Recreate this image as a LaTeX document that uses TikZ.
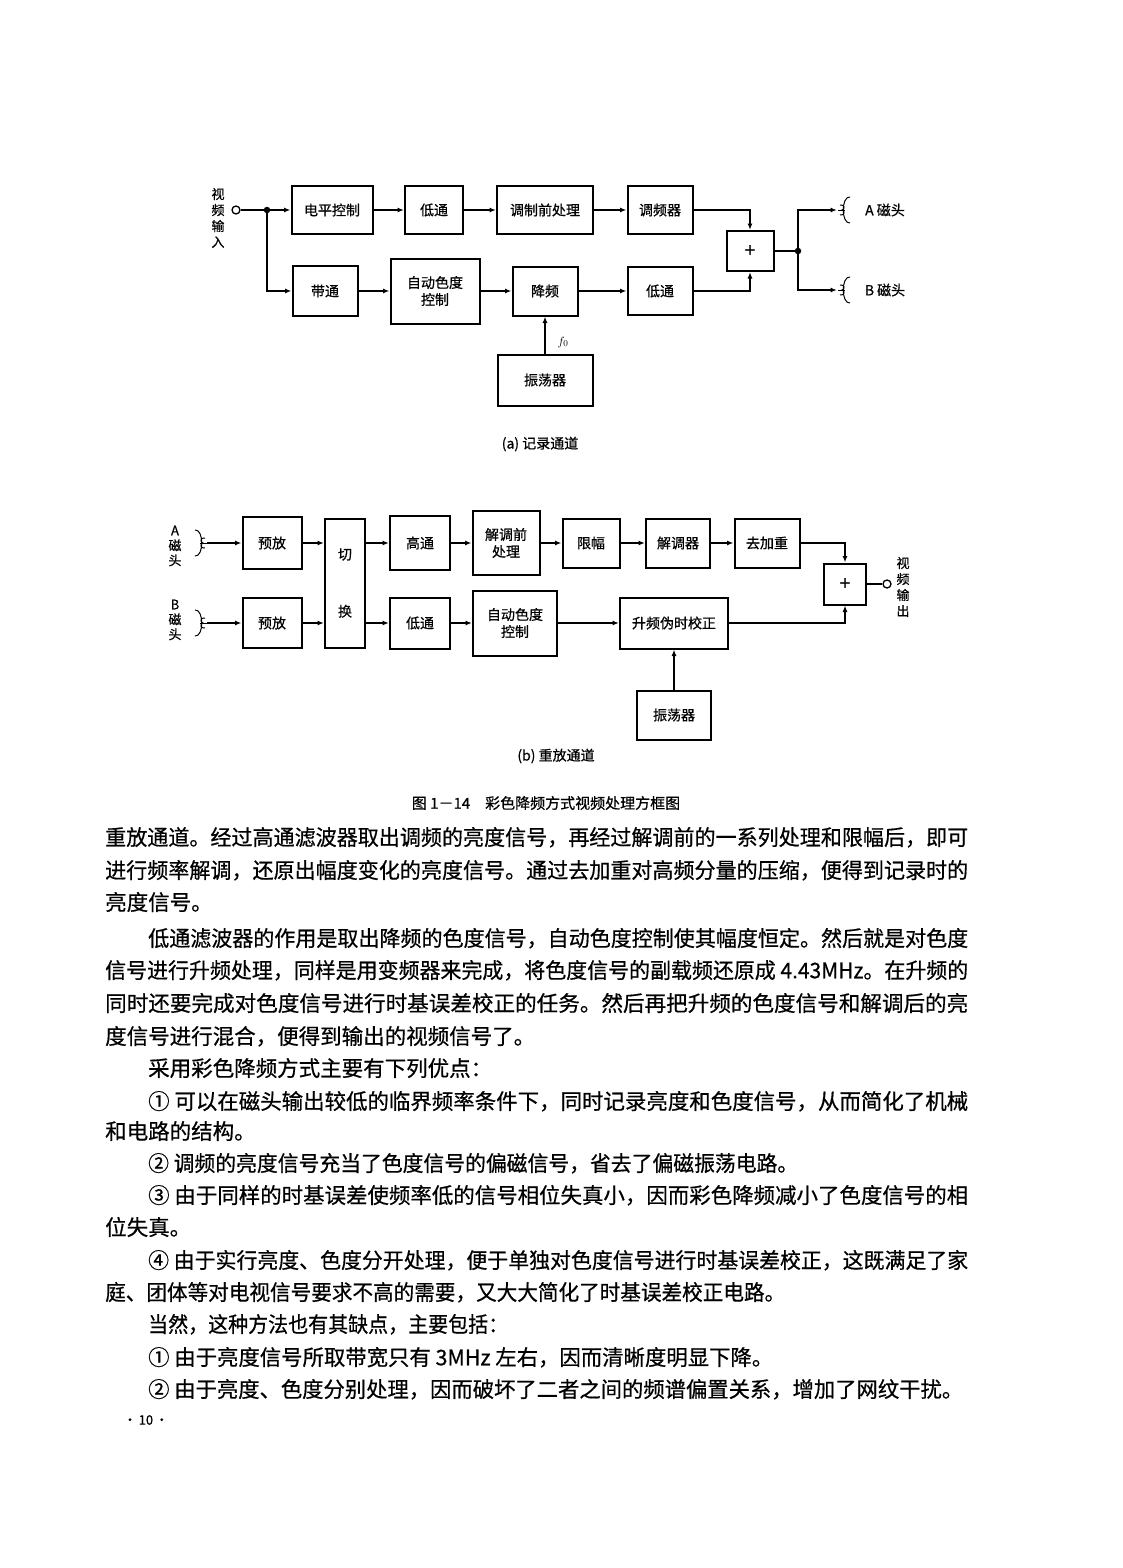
\documentclass[tikz,border=0pt]{standalone}
\usepackage{fontspec}
\usepackage{graphicx}
\setmainfont{Noto Sans CJK SC}[FakeBold=0.6]
\usetikzlibrary{arrows.meta}
\newcommand{\boxfont}{\fontsize{14}{17}\selectfont}
\newcommand{\vfont}{\fontsize{13}{16}\selectfont}
\newcommand{\bodyfont}{\fontsize{21.5}{26}\selectfont}
\newcommand{\jline}[2]{\resizebox{#1pt}{\height}{#2}}
\tikzset{
  blk/.style={draw,line width=2pt,inner sep=0pt,align=center,font=\boxfont},
  arr/.style={line width=1.5pt,-{Latex[length=6.5pt,width=5pt]}},
  wire/.style={line width=1.5pt},
  jn/.style={circle,fill,inner sep=0pt,minimum size=6.5pt},
  port/.style={circle,draw,line width=1.3pt,inner sep=0pt,minimum size=8pt,fill=white},
  vtxt/.style={align=center,font=\vfont,inner sep=0pt},
  txt/.style={anchor=west,inner sep=0pt,font=\bodyfont,text height=19pt,text depth=2.5pt},
  mhead/.pic={
    \draw[line width=1pt] (4,-13) .. controls (-5,-14) and (-5,14) .. (4,13);
    \draw[line width=1pt] (-6,-5) .. controls (-1,-6) and (-1,0) .. (-4,0) .. controls (-1,0) and (-1,6) .. (-6,5);
    \draw[line width=1pt] (-8,0) -- (-1,0);
  }
}

\begin{document}
\begin{tikzpicture}[x=1pt,y=-1pt]
\fill[white] (0,0) rectangle (1122,1568);
\useasboundingbox (0,0) rectangle (1122,1568);

% (a) record channel
\node[vtxt] (vin) at (218,218) {视\\频\\输\\入};
\node[port] (inA) at (236,210) {};
\node[jn] (jA) at (267,210) {};
\node[blk,minimum width=81pt,minimum height=48pt] (lvl) at (332,210) {电平控制};
\node[blk,minimum width=58pt,minimum height=48pt] (lpA) at (434,210) {低通};
\node[blk,minimum width=96pt,minimum height=48pt] (pre) at (545,210) {调制前处理};
\node[blk,minimum width=65pt,minimum height=48pt] (fm) at (660,210) {调频器};
\node[blk,minimum width=47pt,minimum height=40pt,font=\fontsize{19}{20}\selectfont] (sumA) at (750,251) {+};
\node[blk,minimum width=65pt,minimum height=50pt] (bp) at (325,291) {带通};
\node[blk,minimum width=89pt,minimum height=65pt] (acA) at (435,291) {自动色度\\控制};
\node[blk,minimum width=65pt,minimum height=49pt] (dn) at (545,291) {降频};
\node[blk,minimum width=65pt,minimum height=48pt] (lpA2) at (660,291) {低通};
\node[blk,minimum width=95pt,minimum height=51pt] (oscA) at (545,380) {振荡器};
\node[font=\vfont] (f0) at (563,342) {$f_0$};
\node[jn] (jOut) at (798,251) {};
\coordinate (hA) at (837,210);
\coordinate (hB) at (837,290);
\pic at (846,210) {mhead};
\pic at (846,290) {mhead};
\node[font=\boxfont] (labA) at (885,210) {A 磁头};
\node[font=\boxfont] (labB) at (885,290) {B 磁头};
\node[font=\fontsize{14}{16}\selectfont] (capA) at (540,444) {(a) 记录通道};

\draw[wire] (inA) -- (jA);
\draw[arr] (jA) -- (lvl);
\draw[arr] (lvl) -- (lpA);
\draw[arr] (lpA) -- (pre);
\draw[arr] (pre) -- (fm);
\draw[arr] (fm.east) -| (sumA.north);
\draw[arr] (jA) |- (bp.west);
\draw[arr] (bp) -- (acA);
\draw[arr] (acA) -- (dn);
\draw[arr] (dn) -- (lpA2);
\draw[arr] (lpA2.east) -| (sumA.south);
\draw[arr] (oscA) -- (dn);
\draw[wire] (sumA) -- (jOut);
\draw[arr] (jOut) |- (hA);
\draw[arr] (jOut) |- (hB);

% (b) playback channel
\node[vtxt,font=\fontsize{13}{15}\selectfont] (labAb) at (175,546) {A\\磁\\头};
\node[vtxt,font=\fontsize{13}{15}\selectfont] (labBb) at (175,620) {B\\磁\\头};
\pic[xscale=-1] at (199,543) {mhead};
\pic[xscale=-1] at (199,623) {mhead};
\coordinate (hAb) at (207,543);
\coordinate (hBb) at (207,623);
\node[blk,minimum width=59pt,minimum height=52pt] (pa1) at (272,543) {预放};
\node[blk,minimum width=59pt,minimum height=50pt] (pa2) at (272,623) {预放};
\node[blk,minimum width=40pt,minimum height=129pt] (sw) at (345,583) {切\\[40pt]换};
\node[blk,minimum width=60pt,minimum height=54pt] (hp) at (420,543) {高通};
\node[blk,minimum width=67pt,minimum height=64pt] (dpre) at (506,543) {解调前\\处理};
\node[blk,minimum width=57pt,minimum height=49pt] (lim) at (591,543) {限幅};
\node[blk,minimum width=64pt,minimum height=49pt] (dem) at (678,543) {解调器};
\node[blk,minimum width=65pt,minimum height=49pt] (deemp) at (767,543) {去加重};
\node[blk,minimum width=42pt,minimum height=41pt,font=\fontsize{19}{20}\selectfont] (sumB) at (845,584) {+};
\node[port] (outB) at (887,584) {};
\node[vtxt] (vout) at (903,587) {视\\频\\输\\出};
\node[blk,minimum width=60pt,minimum height=51pt] (lpB) at (420,623) {低通};
\node[blk,minimum width=84pt,minimum height=65pt] (acB) at (515,623) {自动色度\\控制};
\node[blk,minimum width=108pt,minimum height=51pt] (up) at (674,623) {升频伪时校正};
\node[blk,minimum width=74pt,minimum height=49pt] (oscB) at (674,715) {振荡器};
\node[font=\fontsize{14}{16}\selectfont] (capB) at (556,756) {(b) 重放通道};
\node[font=\fontsize{15}{17}\selectfont] (fig) at (546,803) {图 1－14\quad 彩色降频方式视频处理方框图};

\draw[arr] (hAb) -- (pa1);
\draw[arr] (hBb) -- (pa2);
\draw[arr] (pa1.east) -- (pa1.east -| sw.west);
\draw[arr] (pa2.east) -- (pa2.east -| sw.west);
\draw[arr] (hp.west -| sw.east) -- (hp.west);
\draw[arr] (lpB.west -| sw.east) -- (lpB.west);
\draw[arr] (hp) -- (dpre);
\draw[arr] (dpre) -- (lim);
\draw[arr] (lim) -- (dem);
\draw[arr] (dem) -- (deemp);
\draw[arr] (deemp.east) -| (sumB.north);
\draw[arr] (lpB) -- (acB);
\draw[arr] (acB) -- (up);
\draw[arr] (up.east) -| (sumB.south);
\draw[arr] (oscB) -- (up);
\draw[wire] (sumB) -- (outB);

% body text
\node[txt] (t1) at (105,837) {\jline{863}{重放通道。经过高通滤波器取出调频的亮度信号，再经过解调前的一系列处理和限幅后，即可}};
\node[txt] (t2) at (105,870) {\jline{863}{进行频率解调，还原出幅度变化的亮度信号。通过去加重对高频分量的压缩，便得到记录时的}};
\node[txt] (t3) at (105,902) {亮度信号。};
\node[txt] (t4) at (148,938) {\jline{820}{低通滤波器的作用是取出降频的色度信号，自动色度控制使其幅度恒定。然后就是对色度}};
\node[txt] (t5) at (105,970) {\jline{863}{信号进行升频处理，同样是用变频器来完成，将色度信号的副载频还原成 4.43MHz。在升频的}};
\node[txt] (t6) at (105,1003) {\jline{863}{同时还要完成对色度信号进行时基误差校正的任务。然后再把升频的色度信号和解调后的亮}};
\node[txt] (t7) at (105,1036) {度信号进行混合，便得到输出的视频信号了。};
\node[txt] (t8) at (148,1068) {采用彩色降频方式主要有下列优点：};
\node[txt] (t9) at (148,1101) {\jline{820}{① 可以在磁头输出较低的临界频率条件下，同时记录亮度和色度信号，从而简化了机械}};
\node[txt] (t10) at (105,1131) {和电路的结构。};
\node[txt] (t11) at (148,1163) {\jline{650}{② 调频的亮度信号充当了色度信号的偏磁信号，省去了偏磁振荡电路。}};
\node[txt] (t12) at (148,1195) {\jline{820}{③ 由于同样的时基误差使频率低的信号相位失真小，因而彩色降频减小了色度信号的相}};
\node[txt] (t13) at (105,1227) {位失真。};
\node[txt] (t14) at (148,1260) {\jline{820}{④ 由于实行亮度、色度分开处理，便于单独对色度信号进行时基误差校正，这既满足了家}};
\node[txt] (t15) at (105,1292) {\jline{680}{庭、团体等对电视信号要求不高的需要，又大大简化了时基误差校正电路。}};
\node[txt] (t16) at (148,1324) {\jline{360}{当然，这种方法也有其缺点，主要包括：}};
\node[txt] (t17) at (148,1357) {\jline{625}{① 由于亮度信号所取带宽只有 3MHz 左右，因而清晰度明显下降。}};
\node[txt] (t18) at (148,1389) {\jline{815}{② 由于亮度、色度分别处理，因而破坏了二者之间的频谱偏置关系，增加了网纹干扰。}};
\node[font=\vfont,anchor=west] (pg) at (120,1420) {·\,10\,·};
\end{tikzpicture}
\end{document}
